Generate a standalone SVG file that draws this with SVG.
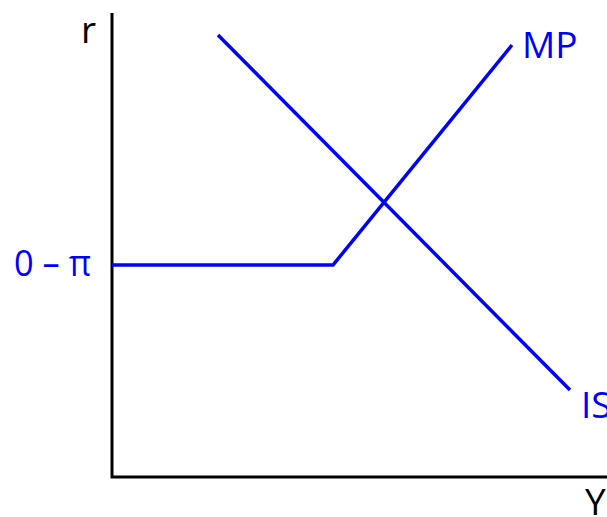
<svg xmlns="http://www.w3.org/2000/svg" width="607" height="517" viewBox="0 0 607 517">
<style>
.ax{stroke:#000;stroke-width:3;fill:none}
.cv{stroke:#0000ff;stroke-width:3.5;fill:none;stroke-linejoin:miter}
.lb{font-family:"Open Sans","Liberation Sans",sans-serif;font-size:37px}
.bl{fill:#0000ff}
.bk{fill:#000}
</style>
<rect width="607" height="517" fill="#fff"/>
<g id="axes">
<path class="ax" d="M112,13 V477 H607"/>
</g>
<g id="connectors">
<path id="mp" class="cv" d="M112,265 H333 L512,45"/>
<path id="is" class="cv" d="M218,35 L570,390"/>
</g>
<g id="labels">
<text class="lb bk" x="81" y="43">r</text>
<text class="lb bl" x="522" y="58">MP</text>
<text class="lb bl" x="14" y="276" textLength="77" lengthAdjust="spacingAndGlyphs">0 – π</text>
<text class="lb bl" x="581" y="418">IS</text>
<text class="lb bk" x="585" y="515">Y</text>
</g>
</svg>
